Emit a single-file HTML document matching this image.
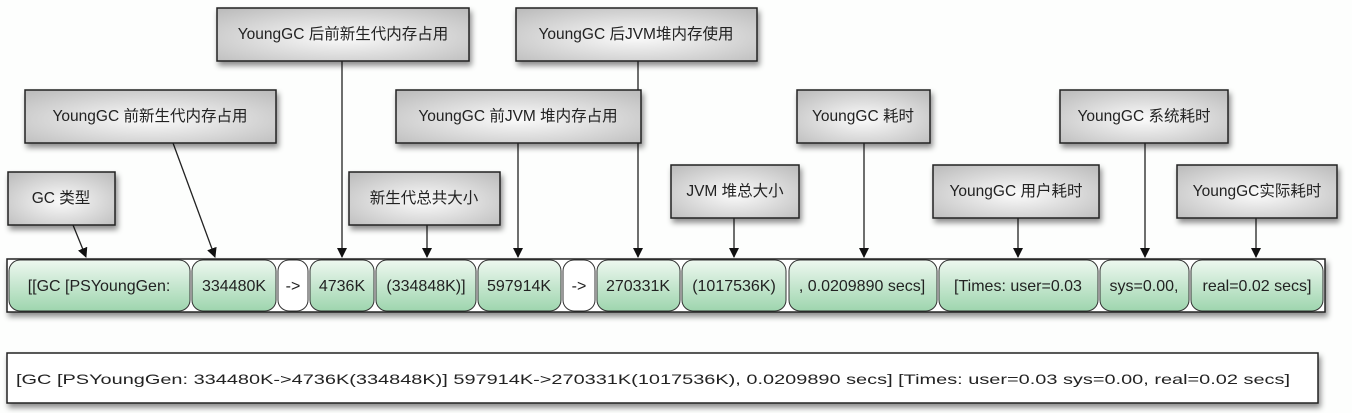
<!DOCTYPE html>
<html><head><meta charset="utf-8"><style>
html,body{margin:0;padding:0;background:#fdfefd;width:1352px;height:413px;overflow:hidden}
svg{display:block}
text{font-family:"Liberation Sans","Noto Sans CJK SC",sans-serif;fill:#222}
</style></head><body>
<svg width="1352" height="413" viewBox="0 0 1352 413" xmlns="http://www.w3.org/2000/svg">
<defs>
<radialGradient id="gb" cx="0.5" cy="0.55" r="0.7">
<stop offset="0" stop-color="#fbfbfb"/><stop offset="1" stop-color="#bdbdbd"/></radialGradient>
<linearGradient id="gg" x1="0" y1="0" x2="0" y2="1">
<stop offset="0" stop-color="#eef8f0"/><stop offset="1" stop-color="#9ed5ae"/></linearGradient>
<filter id="sh" x="-10%" y="-20%" width="130%" height="160%"><feDropShadow dx="2" dy="4" stdDeviation="3" flood-color="#000" flood-opacity="0.45"/></filter>
<marker id="ar" markerWidth="10" markerHeight="10" refX="9" refY="5" orient="auto" markerUnits="userSpaceOnUse"><path d="M0,0 L10,5 L0,10 z" fill="#111"/></marker>
</defs>

<g stroke="#222" stroke-width="1.3" marker-end="url(#ar)">
<line x1="73" y1="225" x2="86" y2="257"/>
<line x1="173" y1="143" x2="215" y2="257"/>
<line x1="342" y1="61" x2="342" y2="257"/>
<line x1="427" y1="225" x2="427" y2="257"/>
<line x1="518" y1="143" x2="518" y2="257"/>
<line x1="638" y1="61" x2="638" y2="257"/>
<line x1="734" y1="218" x2="734" y2="257"/>
<line x1="864" y1="143" x2="864" y2="257"/>
<line x1="1018" y1="218" x2="1018" y2="257"/>
<line x1="1145" y1="143" x2="1145" y2="257"/>
<line x1="1256" y1="218" x2="1256" y2="257"/>
</g>

<g stroke="#222" stroke-width="1.5" fill="url(#gb)" filter="url(#sh)">
<rect x="8" y="172" width="107" height="53"/>
<rect x="25" y="90" width="251" height="53"/>
<rect x="217" y="8" width="252" height="53"/>
<rect x="349" y="172" width="151" height="53"/>
<rect x="396" y="90" width="245" height="53"/>
<rect x="516" y="8" width="241" height="53"/>
<rect x="671" y="165" width="128" height="53"/>
<rect x="797" y="90" width="133" height="53"/>
<rect x="933" y="165" width="166" height="53"/>
<rect x="1060" y="90" width="168" height="53"/>
<rect x="1177" y="165" width="160" height="53"/>
</g>
<g font-size="15.5" text-anchor="middle">
<text x="61" y="203">GC 类型</text>
<text x="150" y="121">YoungGC 前新生代内存占用</text>
<text x="343" y="39">YoungGC 后前新生代内存占用</text>
<text x="424" y="203">新生代总共大小</text>
<text x="518" y="121">YoungGC 前JVM 堆内存占用</text>
<text x="636" y="39">YoungGC 后JVM堆内存使用</text>
<text x="735" y="196">JVM 堆总大小</text>
<text x="863" y="121">YoungGC 耗时</text>
<text x="1016" y="196">YoungGC 用户耗时</text>
<text x="1144" y="121">YoungGC 系统耗时</text>
<text x="1257" y="196">YoungGC实际耗时</text>
</g>

<rect x="7" y="259" width="1318" height="53" fill="#fff" stroke="#222" stroke-width="1.5" filter="url(#sh)"/>
<g stroke="#333" stroke-width="1" fill="url(#gg)">
<rect x="9" y="260" width="181" height="51" rx="11"/>
<rect x="192" y="260" width="84" height="51" rx="11"/>
<rect x="278" y="260" width="30" height="51" rx="11" fill="#fff"/>
<rect x="310" y="260" width="64" height="51" rx="11"/>
<rect x="376" y="260" width="100" height="51" rx="11"/>
<rect x="478" y="260" width="83" height="51" rx="11"/>
<rect x="563" y="260" width="32" height="51" rx="11" fill="#fff"/>
<rect x="597" y="260" width="83" height="51" rx="11"/>
<rect x="682" y="260" width="104" height="51" rx="11"/>
<rect x="789" y="260" width="148" height="51" rx="11"/>
<rect x="939" y="260" width="159" height="51" rx="11"/>
<rect x="1100" y="260" width="89" height="51" rx="11"/>
<rect x="1191" y="260" width="132" height="51" rx="11"/>
</g>
<g font-size="16" text-anchor="middle">
<text x="99" y="291">[[GC [PSYoungGen:</text>
<text x="234" y="291">334480K</text>
<text x="293" y="291">-&gt;</text>
<text x="342" y="291">4736K</text>
<text x="426" y="291">(334848K)]</text>
<text x="519" y="291">597914K</text>
<text x="579" y="291">-&gt;</text>
<text x="638" y="291">270331K</text>
<text x="734" y="291">(1017536K)</text>
<text x="862" y="291">, 0.0209890 secs]</text>
<text x="1018" y="291">[Times: user=0.03</text>
<text x="1144" y="291">sys=0.00,</text>
<text x="1257" y="291">real=0.02 secs]</text>
</g>

<rect x="7" y="353" width="1311" height="50" fill="#fff" stroke="#222" stroke-width="1.5" filter="url(#sh)"/>
<text x="16" y="384" font-size="14" textLength="1274" lengthAdjust="spacingAndGlyphs">[GC [PSYoungGen: 334480K-&gt;4736K(334848K)] 597914K-&gt;270331K(1017536K), 0.0209890 secs] [Times: user=0.03 sys=0.00, real=0.02 secs]</text>
</svg>
</body></html>
